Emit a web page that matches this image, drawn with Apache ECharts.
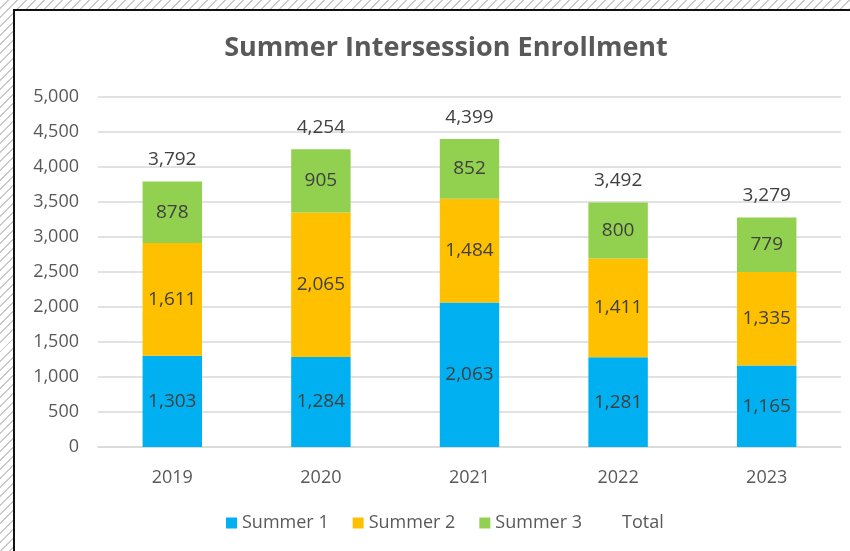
<!DOCTYPE html>
<html><head><meta charset="utf-8">
<script src="https://cdn.jsdelivr.net/npm/echarts@6/dist/echarts.min.js"></script>
<style>
html,body{margin:0;padding:0;width:850px;height:551px;overflow:hidden;
background:repeating-linear-gradient(135deg,#ffffff 0px,#ffffff 5px,#c9c9c9 5px,#c9c9c9 6.4px);}
#frame{position:absolute;left:13px;top:9px;width:880px;height:600px;border:2px solid #111;background:#fff;}
#chart{position:absolute;left:0;top:0;width:850px;height:551px;}
</style></head>
<body>
<div id="frame"></div>
<div id="chart"></div>
<script>
const years = ['2019','2020','2021','2022','2023'];
const summer1 = [1303, 1284, 2063, 1281, 1165];
const summer2 = [1611, 2065, 1484, 1411, 1335];
const summer3 = [878, 905, 852, 800, 779];
const total = [3792, 4254, 4399, 3492, 3279];
const yTicks = [0, 500, 1000, 1500, 2000, 2500, 3000, 3500, 4000, 4500, 5000];

const FONT = 'Open Sans';
const fmt = v => Number(v).toLocaleString('en-US');
const chart = echarts.init(document.getElementById('chart'), null, {renderer:'canvas'});
const lbl = {show:true, position:'inside', color:'#404040', fontSize:19, fontFamily:FONT, formatter:p=>fmt(p.value)};
chart.setOption({
  backgroundColor:'transparent',
  animation:false,
  title:{text:'Summer Intersession Enrollment', left:441, textAlign:'center', top:30,
    textStyle:{fontFamily:FONT, fontWeight:'bold', fontSize:27, color:'#595959'}},
  grid:{left:98, right:9, top:97, bottom:104, containLabel:false},
  legend:{bottom:14, left:221, itemWidth:11, itemHeight:11, itemGap:24, icon:'rect',
    textStyle:{fontFamily:FONT, fontSize:18, color:'#595959'},
    data:['Summer 1','Summer 2','Summer 3',{name:'Total', itemStyle:{color:'rgba(0,0,0,0)'}}]},
  xAxis:{type:'category', data:years,
    axisLine:{lineStyle:{color:'#d9d9d9', width:1.5}}, axisTick:{show:false},
    axisLabel:{fontFamily:FONT, fontSize:18, color:'#595959', margin:22}},
  yAxis:{type:'value', min:yTicks[0], max:yTicks[yTicks.length-1], interval:yTicks[1]-yTicks[0],
    axisLine:{show:false}, axisTick:{show:false},
    splitLine:{lineStyle:{color:'#d9d9d9', width:1.5}},
    axisLabel:{fontFamily:FONT, fontSize:18, color:'#595959', margin:19, formatter:v=>fmt(v)}},
  series:[
    {name:'Summer 1', type:'bar', stack:'s', data:summer1, barWidth:'40%', itemStyle:{color:'#00B0F0'}, label:lbl},
    {name:'Summer 2', type:'bar', stack:'s', data:summer2, itemStyle:{color:'#FFC000'}, label:lbl},
    {name:'Summer 3', type:'bar', stack:'s', data:summer3, itemStyle:{color:'#92D050'}, label:lbl},
    {name:'Total', type:'line', data:total, symbol:'circle', symbolSize:2, showSymbol:true,
      lineStyle:{width:0, color:'rgba(0,0,0,0)'}, itemStyle:{color:'rgba(0,0,0,0)', borderWidth:0},
      label:{show:true, position:'top', distance:11, color:'#404040', fontSize:19, fontFamily:FONT, formatter:p=>fmt(p.value)}}
  ]
});
</script>
</body></html>
